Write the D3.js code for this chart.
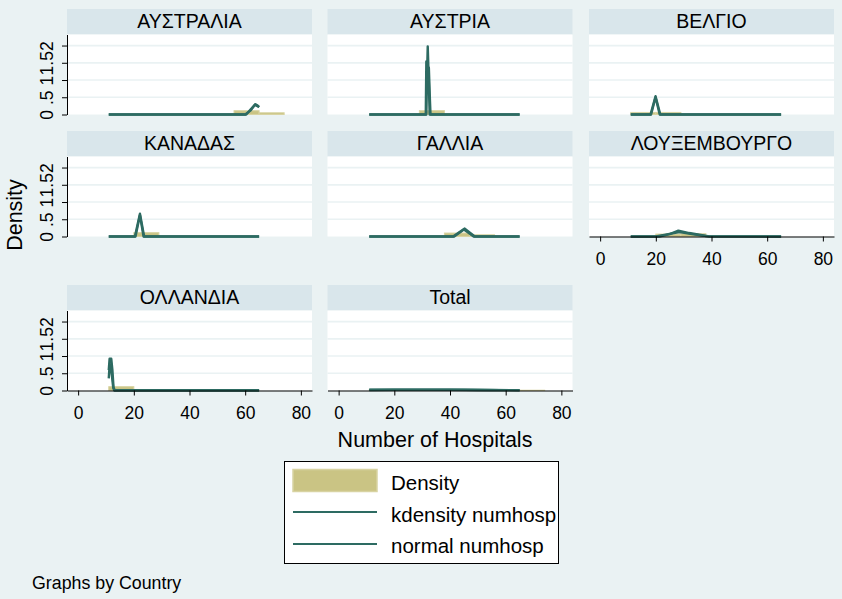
<!DOCTYPE html>
<html>
<head>
<meta charset="utf-8">
<script src="https://cdn.jsdelivr.net/npm/d3@7"></script>
<style>
  body { margin: 0; background: #eaf2f3; }
  svg { display: block; font-family: "Liberation Sans", Arial, sans-serif; }
</style>
</head>
<body>
<svg id="chart" width="842" height="599"></svg>
<script>
'use strict';

// ---- data ----
var countries = ['ΑΥΣΤΡΑΛΙΑ', 'ΑΥΣΤΡΙΑ', 'ΒΕΛΓΙΟ', 'ΚΑΝΑΔΑΣ', 'ΓΑΛΛΙΑ',
                 'ΛΟΥΞΕΜΒΟΥΡΓΟ', 'ΟΛΛΑΝΔΙΑ', 'Total'];
var binEdges = [11, 20, 29, 38, 47, 56, 65, 74];

// histogram density per bin
var barsAustralia  = [0, 0, 0, 0, 0, 0.11, 0.05];
var barsAustria    = [0, 0, 0.111, 0, 0, 0, 0];
var barsBelgium    = [0.06, 0.06, 0, 0, 0, 0, 0];
var barsCanada     = [0, 0.111, 0, 0, 0, 0, 0];
var barsFrance     = [0, 0, 0, 0.10, 0.05, 0, 0];
var barsLuxembourg = [0, 0.07, 0.08, 0, 0, 0, 0];
var barsHolland    = [0.111, 0, 0, 0, 0, 0, 0];
var barsTotal      = [0.02, 0.025, 0.02, 0.012, 0.01, 0.015, 0.008];

// kdensity curves [numhosp, density]
var kdenAustralia  = [[11, 0], [60.4, 0], [62, 0.15], [63.7, 0.30], [64.3, 0.27], [65, 0.21]];
var kdenAustria    = [[11, 0], [31.3, 0], [31.5, 1.54], [31.8, 1.3], [32.4, 1.36], [32.8, 0.4], [33, 0], [65, 0]];
var kdenBelgium    = [[11, 0], [18.1, 0], [19.9, 0.53], [21.6, 0], [65, 0]];
var kdenCanada     = [[11, 0], [20.4, 0], [22.2, 0.66], [23.7, 0], [65, 0]];
var kdenFrance     = [[11, 0], [41.1, 0], [45.3, 0.23], [48.9, 0], [65, 0]];
var kdenLuxembourg = [[11, 0], [21.3, 0], [25, 0.07], [28.1, 0.17], [32, 0.1], [39.2, 0], [65, 0]];
var kdenHolland    = [[11, 0.59], [11.3, 0.92], [11.9, 0.92], [12.3, 0.6], [12.7, 0.1], [13.1, 0.01], [65, 0.01]];
var kdenTotal      = [[11, 0.022], [20, 0.026], [30, 0.024], [40, 0.02], [50, 0.016], [58, 0.012], [65, 0.01]];

// normal curves [numhosp, density]
var normAustralia  = [[11, 0], [60, 0], [62, 0.12], [63.5, 0.28], [65, 0.22]];
var normAustria    = [[11, 0], [31.5, 0], [31.8, 1.3], [32.0, 1.97], [32.3, 1.2], [32.7, 0], [65, 0]];
var normBelgium    = [[11, 0], [18.3, 0], [19.9, 0.5], [21.4, 0], [65, 0]];
var normCanada     = [[11, 0], [20.6, 0], [22.2, 0.62], [23.5, 0], [65, 0]];
var normFrance     = [[11, 0], [41.5, 0], [45, 0.2], [48.5, 0], [65, 0]];
var normLuxembourg = [[11, 0], [20, 0.005], [24, 0.06], [28.5, 0.13], [33, 0.07], [38, 0.01], [65, 0]];
var normHolland    = [[11, 0.35], [11.2, 0.6], [11.6, 0.75], [12.1, 0.45], [12.6, 0.08], [13, 0], [65, 0]];
var normTotal      = [[11, 0.015], [20, 0.021], [33, 0.025], [45, 0.021], [55, 0.014], [65, 0.008]];

var xTicks = [0, 20, 40, 60, 80];
var yTicks = [0, 0.5, 1, 1.5, 2];
var yTickLabels = ['0', '.5', '1', '1.5', '2'];
var legendLabels = ['Density', 'kdensity numhosp', 'normal numhosp'];

// ---- layout ----
var colX = [67, 327.5, 589];
var stripTop = [9, 131, 285];
var panelW = 245, stripH = 25.5, plotH = 80;

var barFill = '#cac484', barLine = '#d8d3a2', curveCol = '#2d6b62', bg = '#eaf2f3';

var panels = [
  { name: countries[0], col: 0, row: 0, bars: barsAustralia,  kden: kdenAustralia,  norm: normAustralia,  yAxis: true,  xAxis: false },
  { name: countries[1], col: 1, row: 0, bars: barsAustria,    kden: kdenAustria,    norm: normAustria,    yAxis: false, xAxis: false },
  { name: countries[2], col: 2, row: 0, bars: barsBelgium,    kden: kdenBelgium,    norm: normBelgium,    yAxis: false, xAxis: false },
  { name: countries[3], col: 0, row: 1, bars: barsCanada,     kden: kdenCanada,     norm: normCanada,     yAxis: true,  xAxis: false },
  { name: countries[4], col: 1, row: 1, bars: barsFrance,     kden: kdenFrance,     norm: normFrance,     yAxis: false, xAxis: false },
  { name: countries[5], col: 2, row: 1, bars: barsLuxembourg, kden: kdenLuxembourg, norm: normLuxembourg, yAxis: false, xAxis: true },
  { name: countries[6], col: 0, row: 2, bars: barsHolland,    kden: kdenHolland,    norm: normHolland,    yAxis: true,  xAxis: true },
  { name: countries[7], col: 1, row: 2, bars: barsTotal,      kden: kdenTotal,      norm: normTotal,      yAxis: false, xAxis: true }
];

var svg = d3.select('#chart');
svg.append('rect').attr('width', 842).attr('height', 599).attr('fill', bg);

var x = d3.scaleLinear().domain([-4, 84]).range([0, panelW]);
var y = d3.scaleLinear().domain([0, 2.32]).range([plotH, 0]);

var line = d3.line()
  .x(function(d) { return x(d[0]); })
  .y(function(d) { return y(d[1]); });

panels.forEach(function(p) {
  var left = colX[p.col];
  var top = stripTop[p.row];

  // title strip
  svg.append('rect')
    .attr('x', left).attr('y', top)
    .attr('width', panelW).attr('height', stripH)
    .attr('fill', '#d9e6eb');
  svg.append('text')
    .attr('x', left + panelW / 2).attr('y', top + 18.5)
    .attr('text-anchor', 'middle')
    .attr('font-size', '19.5px')
    .text(p.name);

  var g = svg.append('g').attr('transform', 'translate(' + left + ',' + (top + stripH) + ')');

  g.append('rect').attr('width', panelW).attr('height', plotH).attr('fill', '#fff');

  g.selectAll('.grid')
    .data(yTicks.slice(1))
    .enter().append('line')
    .attr('x1', 0).attr('x2', panelW)
    .attr('y1', function(d) { return y(d); })
    .attr('y2', function(d) { return y(d); })
    .attr('stroke', bg)
    .attr('stroke-width', 1.7);

  g.selectAll('rect.hbar')
    .data(p.bars.map(function(h, i) { return { h: h, i: i }; }).filter(function(d) { return d.h > 0; }))
    .enter().append('rect')
    .attr('class', 'hbar')
    .attr('x', function(d) { return x(binEdges[d.i]); })
    .attr('width', function(d) { return x(binEdges[d.i + 1]) - x(binEdges[d.i]); })
    .attr('y', function(d) { return y(d.h); })
    .attr('height', function(d) { return y(0) - y(d.h); })
    .attr('fill', barFill)
    .attr('stroke', barLine)
    .attr('stroke-width', 1);

  [p.kden, p.norm].forEach(function(pts) {
    g.append('path')
      .datum(pts)
      .attr('d', line)
      .attr('fill', 'none')
      .attr('stroke', curveCol)
      .attr('stroke-width', 2.4)
      .attr('stroke-linejoin', 'round');
  });

  if (p.yAxis) {
    var ya = g.append('g')
      .call(d3.axisLeft(y).tickValues(yTicks).tickSize(5).tickSizeOuter(0)
        .tickFormat(function(d, i) { return yTickLabels[i]; }));
    ya.select('.domain').attr('stroke', '#000');
    ya.selectAll('.tick line').attr('stroke', '#000');
    ya.selectAll('.tick text')
      .attr('transform', 'rotate(-90)')
      .attr('x', 0).attr('y', -14).attr('dy', 0)
      .attr('text-anchor', 'middle')
      .attr('fill', '#000')
      .attr('font-size', '17.5px')
      .attr('font-family', '"Liberation Sans", Arial, sans-serif');
  }

  if (p.xAxis) {
    var xa = g.append('g')
      .attr('transform', 'translate(0,' + plotH + ')')
      .call(d3.axisBottom(x).tickValues(xTicks).tickSize(5).tickSizeOuter(0));
    xa.select('.domain').attr('stroke', '#000');
    xa.selectAll('.tick line').attr('stroke', '#000');
    xa.selectAll('.tick text')
      .attr('y', 28).attr('dy', 0)
      .attr('fill', '#000')
      .attr('font-size', '17.5px')
      .attr('font-family', '"Liberation Sans", Arial, sans-serif');
  }
});

// axis titles
svg.append('text')
  .attr('transform', 'translate(22,215) rotate(-90)')
  .attr('text-anchor', 'middle')
  .attr('font-size', '21.5px')
  .text('Density');

svg.append('text')
  .attr('x', 435).attr('y', 447)
  .attr('text-anchor', 'middle')
  .attr('font-size', '21.5px')
  .text('Number of Hospitals');

// legend
var lg = svg.append('g').attr('transform', 'translate(284,461)');
lg.append('rect')
  .attr('x', 0.5).attr('y', 0.5)
  .attr('width', 274).attr('height', 102)
  .attr('fill', '#fff').attr('stroke', '#000').attr('stroke-width', 1);
lg.append('rect')
  .attr('x', 9).attr('y', 8.5)
  .attr('width', 84).attr('height', 22)
  .attr('fill', barFill).attr('stroke', barLine).attr('stroke-width', 1.5);
[51, 83].forEach(function(ly) {
  lg.append('line')
    .attr('x1', 9).attr('x2', 93)
    .attr('y1', ly).attr('y2', ly)
    .attr('stroke', curveCol).attr('stroke-width', 2);
});
lg.selectAll('.ltext')
  .data(legendLabels)
  .enter().append('text')
  .attr('x', 107)
  .attr('y', function(d, i) { return 29 + i * 31.5; })
  .attr('font-size', '20.5px')
  .text(function(d) { return d; });

svg.append('text')
  .attr('x', 32).attr('y', 589)
  .attr('font-size', '17.8px')
  .text('Graphs by Country');
</script>
</body>
</html>
